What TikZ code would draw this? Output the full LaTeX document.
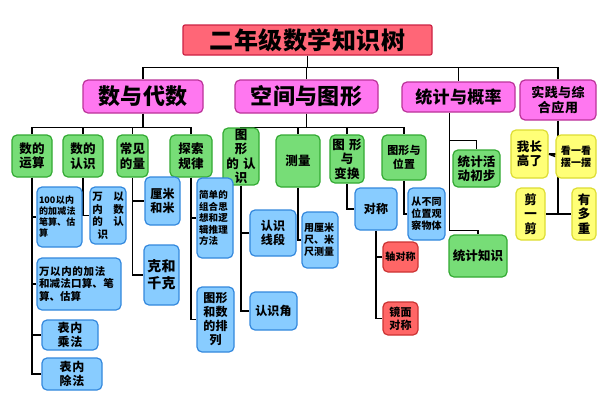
\documentclass[tikz,border=0pt]{standalone}
\usepackage{fontspec}
\usetikzlibrary{backgrounds}
\setmainfont{Noto Sans CJK SC}
\XeTeXlinebreaklocale "zh"
\XeTeXlinebreakskip=0pt plus 1pt
\definecolor{tfill}{HTML}{FF6677}\definecolor{tline}{HTML}{CC2244}
\definecolor{mfill}{HTML}{FF77F0}\definecolor{mline}{HTML}{BB3399}
\definecolor{gfill}{HTML}{77DD77}\definecolor{gline}{HTML}{33AA33}
\definecolor{bfill}{HTML}{88CCFF}\definecolor{bline}{HTML}{3388DD}
\definecolor{rfill}{HTML}{FF6666}\definecolor{rline}{HTML}{CC3333}
\definecolor{yfill}{HTML}{FFFF77}\definecolor{yline}{HTML}{DDDD33}
\tikzset{
 base/.style={rounded corners=5pt,line width=1.2pt,inner sep=1pt,align=center,font=\bfseries},
 ttl/.style={base,fill=tfill,draw=tline,rounded corners=2pt,font=\bfseries\fontsize{24}{26}\selectfont},
 lone/.style={base,fill=mfill,draw=mline,font=\bfseries\fontsize{22}{24}\selectfont},
 ltwo/.style={base,fill=gfill,draw=gline,font=\bfseries\fontsize{12.5}{14.5}\selectfont},
 blu/.style={base,fill=bfill,draw=bline,font=\bfseries\fontsize{10.5}{12.5}\selectfont},
 red/.style={base,fill=rfill,draw=rline,font=\bfseries\fontsize{10}{12}\selectfont},
 yel/.style={base,fill=yfill,draw=yline,font=\bfseries\fontsize{12.5}{14.5}\selectfont},
 conn/.style={line width=1.6pt,black}
}
\newcommand\bx[7]{\pgfmathsetmacro\cx{(#2+#4)/2}\pgfmathsetmacro\cy{(#3+#5)/2}%
\pgfmathsetmacro\ww{#4-#2}\pgfmathsetmacro\hh{#5-#3}\pgfmathsetmacro\tw{#4-#2-4}%
\node[#6,minimum width=\ww pt,minimum height=\hh pt,text width=\tw pt] (#1) at (\cx pt,-\cy pt) {#7};}
\begin{document}
\begin{tikzpicture}
\useasboundingbox (0,0) rectangle (607pt,-400pt);
\bx{title}{183}{25}{432}{55}{ttl}{二年级数学知识树}
\bx{a}{83}{80}{203}{113}{lone}{数与代数}
\bx{b}{235}{80}{378}{113}{lone}{空间与图形}
\bx{c}{402}{82}{515}{112}{lone,font=\bfseries\fontsize{17}{19}\selectfont}{统计与概率}
\bx{d}{520}{80}{596}{120}{lone,font=\bfseries\fontsize{13}{15}\selectfont}{实践与综\\合应用}
\bx{a1}{12}{135}{52}{177}{ltwo}{数的\\运算}
\bx{a2}{63}{135}{103}{177}{ltwo}{数的\\认识}
\bx{a3}{117}{135}{148}{177}{ltwo}{常见\\的量}
\bx{a4}{170}{135}{212}{177}{ltwo}{探索\\规律}
\bx{b1}{223}{135}{259}{178}{ltwo}{图\quad 形\\的\ 认\\识}
\bx{b2}{276}{135}{320}{187}{ltwo}{测量}
\bx{b3}{330}{135}{364}{183}{ltwo}{图\ 形\\与\\变换}
\bx{b4}{382}{135}{426}{180}{ltwo,font=\bfseries\fontsize{11}{14}\selectfont}{图形与\\位置}
\bx{c1}{453}{150}{500}{187}{ltwo}{统计活\\动初步}
\bx{c2}{449}{235}{507}{277}{ltwo}{统计知识}
\bx{d1}{511}{130}{548}{178}{yel}{我长\\高了}
\bx{d2}{556}{135}{596}{178}{yel,font=\bfseries\fontsize{10}{12}\selectfont}{看一看\\摆一摆}
\bx{d3}{516}{188}{545}{240}{yel}{剪\\一\\剪}
\bx{d4}{572}{188}{596}{240}{yel}{有\\多\\重}
\bx{p1}{37}{187}{82}{247}{blu,font=\bfseries\fontsize{9}{11}\selectfont,align=left}{100以内的加减法笔算、估算}
\bx{p2}{37}{258}{121}{310}{blu,align=left}{万以内的加法和减法口算、笔算、估算}
\bx{p3}{42}{320}{98}{350}{blu,font=\bfseries\fontsize{12}{14}\selectfont}{表内\\乘法}
\bx{p4}{42}{358}{102}{390}{blu,font=\bfseries\fontsize{12}{14}\selectfont}{表内\\除法}
\bx{q1}{90}{187}{126}{244}{blu}{万\quad 以\\内\quad 数\\的\quad 认\\识\quad\ \ }
\bx{r1}{145}{177}{180}{225}{blu,font=\bfseries\fontsize{12}{14}\selectfont}{厘米\\和米}
\bx{r2}{144}{245}{179}{305}{blu,font=\bfseries\fontsize{14}{17}\selectfont}{克和\\千克}
\bx{s1}{197}{178}{233}{258}{blu,font=\bfseries\fontsize{9.5}{11.5}\selectfont,align=left}{简单的组合思想和逻辑推理方法}
\bx{s2}{197}{287}{234}{352}{blu,font=\bfseries\fontsize{12}{14}\selectfont}{图形\\和数\\的排\\列}
\bx{t1}{250}{210}{296}{256}{blu,font=\bfseries\fontsize{12}{14}\selectfont}{认识\\线段}
\bx{t2}{250}{292}{297}{330}{blu,font=\bfseries\fontsize{12}{14}\selectfont}{认识角}
\bx{u1}{302}{212}{338}{268}{blu,font=\bfseries\fontsize{10}{12}\selectfont,align=left}{用厘米尺、米尺测量}
\bx{v1}{355}{188}{397}{230}{blu,font=\bfseries\fontsize{12}{14}\selectfont}{对称}
\bx{v2}{383}{242}{418}{272}{red}{轴对称}
\bx{v3}{383}{302}{418}{335}{red,font=\bfseries\fontsize{11}{13}\selectfont}{镜面\\对称}
\bx{w1}{408}{188}{445}{240}{blu,font=\bfseries\fontsize{10}{12}\selectfont}{从不同\\位置观\\察物体}
\begin{scope}[on background layer]
\fill[white] (0,0) rectangle (607pt,-400pt);
\begin{scope}[conn]
\foreach \n in {a,b,c,d} \draw (title.south) -- ++(0,-12pt) -| (\n.north);
\foreach \n in {a1,a2,a3,a4} \draw (a.south) -- ++(0,-14pt) -| (\n.north);
\foreach \n in {b1,b2,b3,b4} \draw (b.south) -- ++(0,-14pt) -| (\n.north);
\foreach \n in {p1,p2,p3,p4} \draw (a1.south) |- (\n.west);
\draw (a2.south) |- (q1.west);
\foreach \n in {r1,r2} \draw (a3.south) |- (\n.west);
\foreach \n in {s1,s2} \draw (a4.south) |- (\n.west);
\foreach \n in {t1,t2} \draw (b1.south) |- (\n.west);
\draw (b2.south) |- (u1.west);
\draw (b3.south) |- (v1.west);
\foreach \n in {v2,v3} \draw (v1.south) |- (\n.west);
\draw (b4.south) |- (w1.west);
\draw ([xshift=-9pt]c.south) -- ++(0,-28pt) -| (c1.north);
\draw ([xshift=-9pt]c.south) -- ++(0,-118pt) -| (c2.north);
\draw (d.south) |- (d1.east);
\draw (d.south) |- (d3.east);
\draw (d3.east) -- (d4.west);
\draw (d1.east) -- (d2.west);
\end{scope}
\end{scope}
\end{tikzpicture}
\end{document}
